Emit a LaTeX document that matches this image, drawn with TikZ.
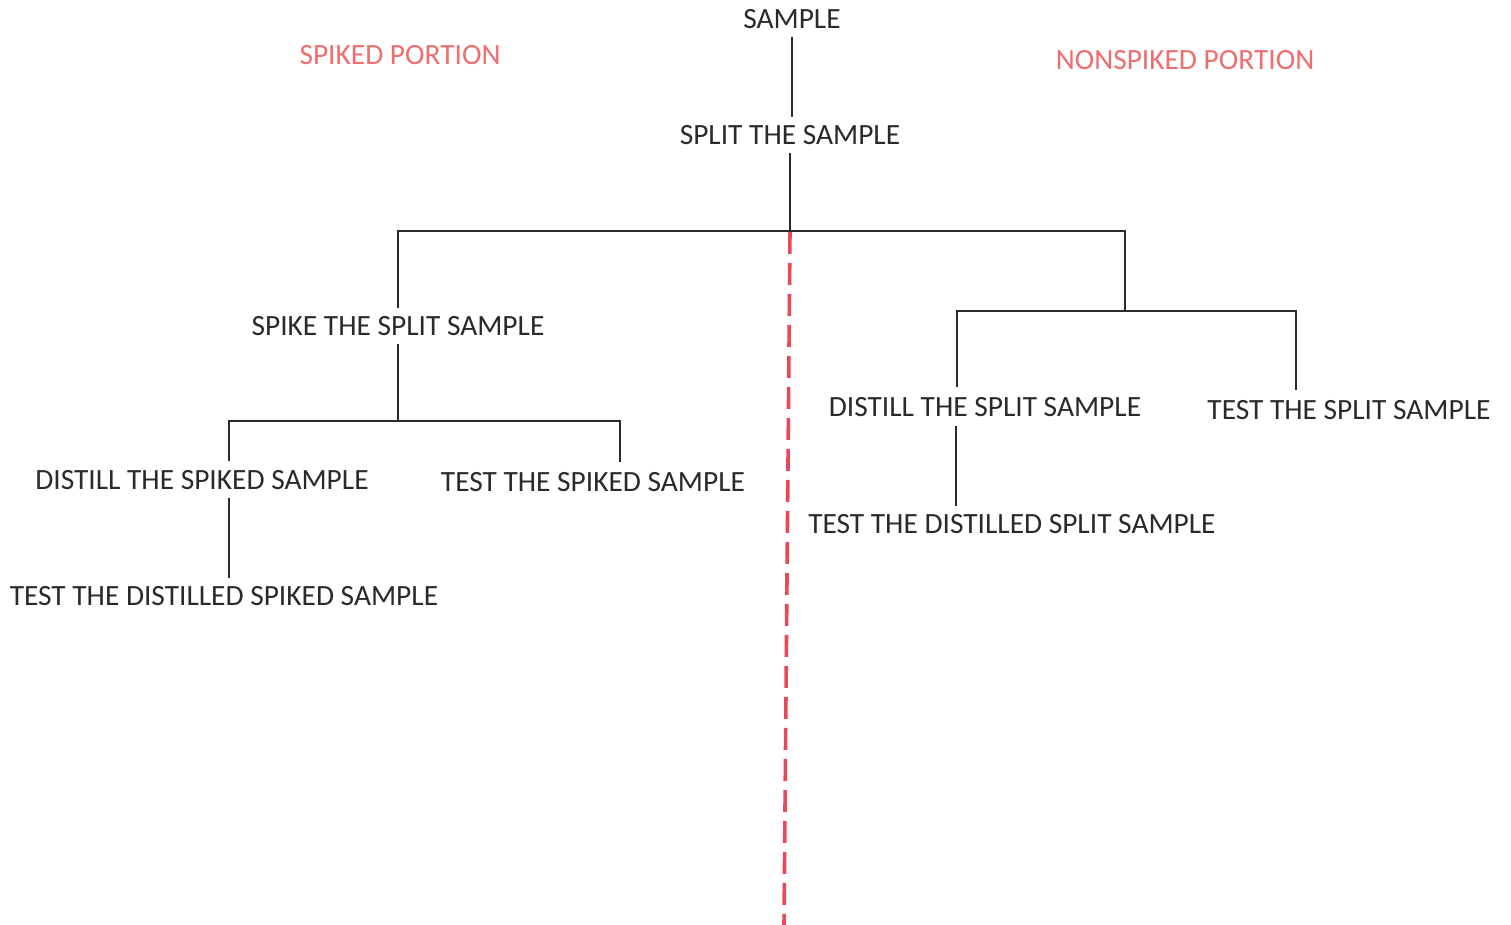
\documentclass[tikz,border=0pt]{standalone}
\usepackage{fontspec}
\setmainfont{Carlito}
\definecolor{ink}{HTML}{2A2A2A}
\definecolor{pinktxt}{HTML}{EE6E70}
\definecolor{reddash}{HTML}{E8495A}
\begin{document}
\begin{tikzpicture}[x=0.5pt,y=-0.5pt,
  lbl/.style={font=\fontsize{14.7}{16}\selectfont, text=ink, inner sep=4pt},
  portion/.style={lbl, text=pinktxt},
  conn/.style={draw=ink, line width=1.2pt},
  divider/.style={draw=reddash, line width=1.8pt, dash pattern=on 11pt off 4.5pt}]
\useasboundingbox[fill=white] (0,0) rectangle (1511,925);

% labels
\node[lbl] (sample) at (792,19) {SAMPLE};
\node[portion] (spiked) at (400,55) {SPIKED PORTION};
\node[portion] (nonspiked) at (1185,60) {NONSPIKED PORTION};
\node[lbl] (split) at (790,135) {SPLIT THE SAMPLE};
\node[lbl] (spike) at (398,326) {SPIKE THE SPLIT SAMPLE};
\node[lbl] (dspiked) at (202,480) {DISTILL THE SPIKED SAMPLE};
\node[lbl] (tspiked) at (593,482) {TEST THE SPIKED SAMPLE};
\node[lbl] (tdspiked) at (224,596) {TEST THE DISTILLED SPIKED SAMPLE};
\node[lbl] (dsplit) at (985,407) {DISTILL THE SPLIT SAMPLE};
\node[lbl] (tsplit) at (1349,410) {TEST THE SPLIT SAMPLE};
\node[lbl] (tdsplit) at (1012,524) {TEST THE DISTILLED SPLIT SAMPLE};

% junctions
\coordinate (j1) at (790,231);
\coordinate (rj) at (1125,311);
\coordinate (j3) at (398,421);
\coordinate (dsTop) at (229,461);
\coordinate (tsTop) at (620,462);
\coordinate (dsBot) at (229,498);
\coordinate (dpTop) at (957,387);
\coordinate (tpTop) at (1296,390);
\coordinate (dpBot) at (956,426);
\coordinate (d1) at (790,232);
\coordinate (d2) at (784,925);

% connectors
\draw[conn] (sample) -- (sample |- split.north);
\draw[conn] (split) -- (j1);
\draw[conn] (spike) |- (j1) -| (rj);
\draw[conn] (spike) -- (j3);
\draw[conn] (dsTop) |- (j3) -| (tsTop);
\draw[conn] (dsBot) -- (dsBot |- tdspiked.north);
\draw[conn] (dpTop) |- (rj) -| (tpTop);
\draw[conn] (dpBot) -- (dpBot |- tdsplit.north);

% divider
\draw[divider] (d1) -- (d2);
\end{tikzpicture}
\end{document}
